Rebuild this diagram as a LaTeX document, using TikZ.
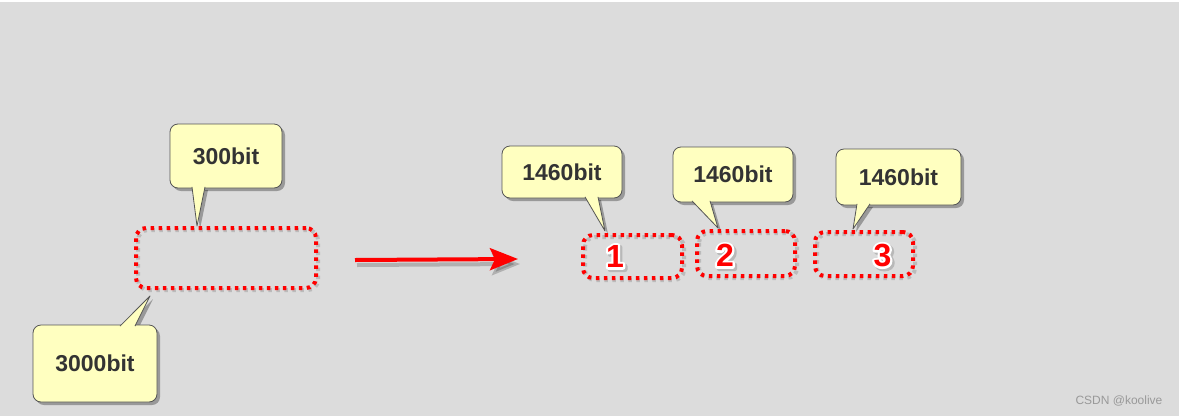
\documentclass[tikz,border=0pt]{standalone}
\usepackage{fontspec}
\setmainfont{Liberation Sans}
\usetikzlibrary{arrows.meta,calc,backgrounds,shadows}
\definecolor{canvas}{HTML}{DCDCDC}
\definecolor{note}{HTML}{FFFFC0}
\definecolor{noteline}{HTML}{555555}
\definecolor{ink}{HTML}{333333}
\definecolor{pkt}{HTML}{FF0000}
% red digit with white rim and grey shadow, one text
\newcommand\rimmed[1]{%
  \rlap{\kern2pt\raisebox{-2pt}{\special{pdf:code q 0.72 0.72 0.72 RG 0.72 0.72 0.72 rg 5 w 1 j 2 Tr}#1\special{pdf:code Q}}}%
  \rlap{\special{pdf:code q 1 1 1 RG 1 1 1 rg 4.5 w 1 j 2 Tr}#1\special{pdf:code Q}}%
  \textcolor{pkt}{#1}}

\begin{document}
\begin{tikzpicture}[x=1pt,y=-1pt,
   bubble/.style={draw=noteline,line width=0.8pt,fill=note,rounded corners=8pt,inner sep=0pt,
     font=\fontsize{23}{26}\selectfont\bfseries\color{ink},
     drop shadow={shadow xshift=3pt,shadow yshift=-3pt,opacity=.3,fill=black}},
   slot/.style={draw=pkt,line width=4pt,dash pattern=on 3.5pt off 4.5pt,rounded corners=10pt,inner sep=0pt,outer sep=0pt},
   num/.style={font=\fontsize{32}{34}\selectfont\bfseries,inner sep=0pt}]
  \begin{scope}[on background layer]
    \fill[canvas] (0,0) rectangle (1179,416);
    \fill[white] (0,0) rectangle (1179,2);
  \end{scope}
  \useasboundingbox (0,0) rectangle (1179,416);
  % dotted packets
  \node[slot,minimum width=180pt,minimum height=60pt] (whole) at (226,258) {};
  \node[slot,minimum width=99pt,minimum height=43pt] (seg1) at (632.5,256.5) {};
  \node[slot,minimum width=98pt,minimum height=45pt] (seg2) at (746,253.5) {};
  \node[slot,minimum width=98pt,minimum height=44pt] (seg3) at (864,254) {};
  \begin{scope}[on background layer]
    \foreach \s in {whole,seg1,seg2,seg3}
      \draw[black,opacity=.15,line width=4pt,dash pattern=on 3.5pt off 4.5pt,rounded corners=10pt]
        ($(\s.north west)+(2,2)$) rectangle ($(\s.south east)+(2,2)$);
  \end{scope}
  % packet numbers
  \node[num] (n1) at (615,257.5) {\rimmed{1}};
  \node[num] (n2) at (725,256.5) {\rimmed{2}};
  \node[num] (n3) at (882.5,256.5) {\rimmed{3}};
  % callouts
  \node[bubble,minimum width=112pt,minimum height=64pt] (b300) at (226,156) {300bit};
  \node[bubble,minimum width=124pt,minimum height=77pt] (b3000) at (95,363.5) {3000bit};
  \node[bubble,minimum width=120pt,minimum height=52pt] (bA) at (562,172) {1460bit};
  \node[bubble,minimum width=120pt,minimum height=55pt] (bB) at (733,174.5) {1460bit};
  \node[bubble,minimum width=125pt,minimum height=56pt] (bC) at (898.5,177) {1460bit};
  \coordinate (t300) at (197,226);
  \coordinate (t3000) at (150,296);
  \coordinate (tA) at (605,231);
  \coordinate (tB) at (718,228);
  \coordinate (tC) at (853,229);
  \foreach \b/\an/\ys/\l/\r/\t in {b300/south/-1.5/-34/-21/t300,b3000/north/1.5/25/40/t3000,
      bA/south/-1.5/23/36/tA,bB/south/-1.5/-41/-23/tB,bC/south/-1.5/-41.5/-28.5/tC}{
    \begin{scope}[on background layer]
      \fill[black,opacity=.3] ($(\b.\an)+(\l+3,\ys+3)$) -- ($(\t)+(3,3)$) -- ($(\b.\an)+(\r+3,\ys+3)$) -- cycle;
    \end{scope}
    \fill[note] ($(\b.\an)+(\l,\ys)$) -- (\t) -- ($(\b.\an)+(\r,\ys)$) -- cycle;
    \draw[noteline,line width=0.8pt,line join=round] ($(\b.\an)+(\l,\ys)$) -- (\t) -- ($(\b.\an)+(\r,\ys)$);
  }
  % split arrow
  \coordinate (go) at (355,260);
  \coordinate (to) at (518,259);
  \begin{scope}[on background layer]
    \draw[black,opacity=.2,line width=4pt,-{Stealth[length=28pt,width=22pt,inset=5pt]}] ($(go)+(2,5)$) -- ($(to)+(2,5)$);
  \end{scope}
  \draw[pkt,line width=4pt,-{Stealth[length=28pt,width=22pt,inset=5pt]}] (go) -- (to);
  \node[font=\fontsize{12}{14}\selectfont,text=black!40] (mark) at (1119,401) {CSDN @koolive};
\end{tikzpicture}
\end{document}
